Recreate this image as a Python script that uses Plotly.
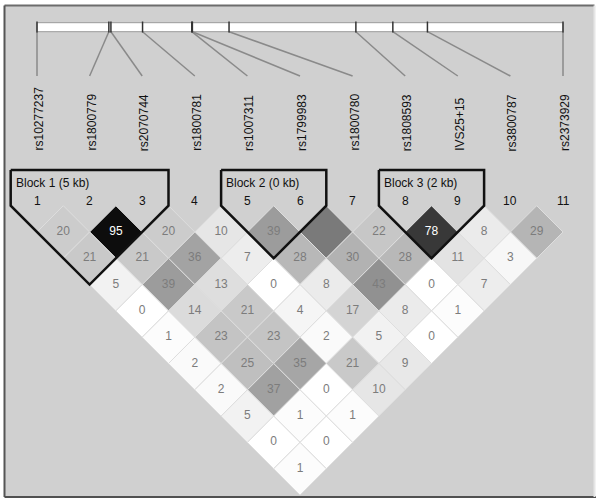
import plotly.graph_objects as go

# ---------------- data ----------------
marker_names = ["rs10277237", "rs1800779", "rs2070744", "rs1800781", "rs1007311",
                "rs1799983", "rs1800780", "rs1808593", "IVS25+15", "rs3800787", "rs2373929"]
marker_numbers = [str(i) for i in range(1, 12)]
# physical positions (kb, relative to first marker)
pos_kb = [0.0, 4.86, 5.00, 7.14, 10.47, 10.51, 12.99, 21.57, 24.07, 26.41, 35.58]

# r^2 x 100 per diagonal (distance d = j - i), listed by first marker i
r2_d1 = [20, 95, 20, 10, 39, 52, 22, 78, 8, 29]
r2_d2 = [21, 21, 36, 7, 28, 30, 28, 11, 3]
r2_d3 = [5, 39, 13, 0, 8, 43, 0, 7]
r2_d4 = [0, 14, 21, 4, 17, 8, 1]
r2_d5 = [1, 23, 23, 2, 5, 0]
r2_d6 = [2, 25, 35, 21, 9]
r2_d7 = [2, 37, 0, 10]
r2_d8 = [5, 1, 1]
r2_d9 = [0, 0]
r2_d10 = [1]
r2_rows = [r2_d1, r2_d2, r2_d3, r2_d4, r2_d5, r2_d6, r2_d7, r2_d8, r2_d9, r2_d10]
unlabelled_pairs = [(6, 7)]

block_names = ["Block 1 (5 kb)", "Block 2 (0 kb)", "Block 3 (2 kb)"]
block_start = [1, 5, 8]
block_end = [3, 6, 9]

# ---------------- layout constants ----------------
W, H = 600, 503
S = 52.6          # px per marker index
X1_PX = 37.0      # px of marker 1
Y0_PX = 205.7     # px of y = 0 (top vertex of first row)

def yd(px):
    return (px - Y0_PX) / S

x_range = [1 - X1_PX / S, 1 + (W - X1_PX) / S]
y_range = [yd(H), yd(0)]

BG = "#d0d0d0"
FONT = "Liberation Sans, Arial, Helvetica, sans-serif"

fig = go.Figure()

# ---------------- LD diamonds ----------------
gx, gy, gt = [], [], []
wx, wy, wt = [], [], []
for di, row in enumerate(r2_rows):
    d = di + 1
    for k, v in enumerate(row):
        i = k + 1
        j = i + d
        cx = (i + j) / 2
        cy = d / 2
        g = int(round(255 - v / 100 * 255))
        col = f"rgb({g},{g},{g})"
        fig.add_trace(go.Scatter(
            x=[cx, cx + 0.5, cx, cx - 0.5, cx],
            y=[cy - 0.5, cy, cy + 0.5, cy, cy - 0.5],
            mode="lines", fill="toself", fillcolor=col,
            line=dict(color="rgb(222,222,222)", width=1),
            hoverinfo="skip", showlegend=False))
        if (i, j) not in unlabelled_pairs:
            if v >= 60:
                wx.append(cx); wy.append(cy); wt.append(str(v))
            else:
                gx.append(cx); gy.append(cy); gt.append(str(v))

fig.add_trace(go.Scatter(x=gx, y=gy, text=gt, mode="text",
                         textfont=dict(family=FONT, size=12, color="#7c7c7c"),
                         hoverinfo="skip", showlegend=False))
fig.add_trace(go.Scatter(x=wx, y=wy, text=wt, mode="text",
                         textfont=dict(family=FONT, size=12, color="#ffffff"),
                         hoverinfo="skip", showlegend=False))

# ---------------- block outlines ----------------
top_y = yd(170)
for name, a, b in zip(block_names, block_start, block_end):
    xs = [a - 0.5, b + 0.5, b + 0.5, (a + b) / 2, a - 0.5, a - 0.5]
    ys = [top_y, top_y, 0, (b - a) / 2 + 0.5, 0, top_y]
    fig.add_trace(go.Scatter(x=xs, y=ys, mode="lines",
                             line=dict(color="#111111", width=2.5),
                             hoverinfo="skip", showlegend=False))
    fig.add_annotation(x=a - 0.5 + 3 / S, y=yd(183), text=name, showarrow=False,
                       xanchor="left", yanchor="middle",
                       font=dict(family=FONT, size=12, color="#111111"))

# marker numbers
for i, num in enumerate(marker_numbers):
    fig.add_annotation(x=i + 1, y=yd(201), text=num, showarrow=False,
                       xanchor="center", yanchor="middle",
                       font=dict(family=FONT, size=12, color="#111111"))

# marker names (rotated)
for i, nm in enumerate(marker_names):
    fig.add_annotation(x=i + 1 + 1.5 / S, y=yd(153), text=nm, showarrow=False,
                       textangle=-90, xanchor="center", yanchor="bottom",
                       font=dict(family=FONT, size=12, color="#111111"))

# ---------------- physical map ----------------
p0, p1 = pos_kb[0], pos_kb[-1]
phys_x = [1 + (p - p0) / (p1 - p0) * 10 for p in pos_kb]

bar_top, bar_bot = yd(22.7), yd(31.7)
fig.add_shape(type="rect", x0=phys_x[0], x1=phys_x[-1], y0=bar_top, y1=bar_bot,
              xref="x", yref="y", fillcolor="white",
              line=dict(color="#9a9a9a", width=1), layer="below")

cx_, cy_ = [], []
for i, px_ in enumerate(phys_x):
    cx_ += [px_, i + 1, None]
    cy_ += [bar_bot, yd(76), None]
fig.add_trace(go.Scatter(x=cx_, y=cy_, mode="lines",
                         line=dict(color="#8a8a8a", width=1.5),
                         hoverinfo="skip", showlegend=False))

tkx, tky = [], []
for px_ in phys_x:
    tkx += [px_, px_, None]
    tky += [yd(21.5), yd(32.5), None]
fig.add_trace(go.Scatter(x=tkx, y=tky, mode="lines",
                         line=dict(color="#333333", width=1.5),
                         hoverinfo="skip", showlegend=False))

# ---------------- frame ----------------
def pxx(v):
    return v / W

def pxy(v):
    return 1 - v / H

fig.add_shape(type="rect", xref="paper", yref="paper",
              x0=pxx(4.5), x1=pxx(594.5), y0=pxy(497), y1=pxy(5.5),
              fillcolor=BG, line=dict(width=0), layer="below")
frame_lines = [
    (4.5, 5.5, 594.5, 5.5, "#6c6c6c"),
    (4.5, 5.5, 4.5, 497, "#555555"),
    (4.5, 497, 596, 497, "#505050"),
    (594.5, 5.5, 594.5, 497, "#e6e6e6"),
]
for x0, y0, x1, y1, c in frame_lines:
    fig.add_shape(type="line", xref="paper", yref="paper",
                  x0=pxx(x0), y0=pxy(y0), x1=pxx(x1), y1=pxy(y1),
                  line=dict(color=c, width=2), layer="above")

fig.update_xaxes(range=x_range, visible=False, fixedrange=True)
fig.update_yaxes(range=y_range, visible=False, fixedrange=True)
fig.update_layout(width=W, height=H, margin=dict(l=0, r=0, t=0, b=0),
                  paper_bgcolor="white", plot_bgcolor="rgba(0,0,0,0)",
                  showlegend=False)

fig.write_html("out.html", config={"displayModeBar": False},
               post_script="document.body.style.margin='0px';")
